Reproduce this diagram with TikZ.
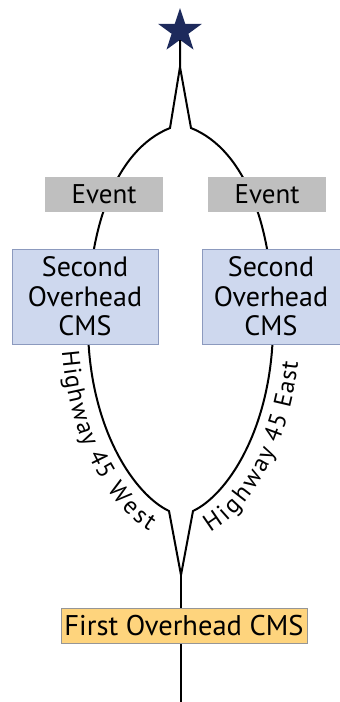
\documentclass[tikz,border=0pt]{standalone}
\usepackage{fontspec}
\setsansfont{PT Sans}
\usetikzlibrary{shapes.geometric,decorations.text}

\definecolor{starblue}{RGB}{29,42,92}
\definecolor{eventgray}{RGB}{191,191,191}
\definecolor{cmsblue}{RGB}{206,216,238}
\definecolor{cmsedge}{RGB}{140,154,190}
\definecolor{firstfill}{RGB}{254,212,125}
\definecolor{firstedge}{RGB}{150,150,150}

\tikzset{
  road/.style={line width=2pt},
  eventbox/.style={fill=eventgray, inner sep=0pt, minimum width=118pt, minimum height=35pt,
    font=\sffamily\fontsize{27}{29}\selectfont},
  cmsbox/.style={fill=cmsblue, draw=cmsedge, line width=0.6pt, inner sep=0pt, minimum height=95pt,
    align=center, font=\sffamily\fontsize{28}{29.5}\selectfont},
  firstbox/.style={fill=firstfill, draw=firstedge, line width=0.6pt, inner sep=0pt, minimum width=246pt,
    minimum height=35pt, font=\sffamily\fontsize{28.5}{29}\selectfont},
  hwylabel/.style={decorate, decoration={text along path, raise=-27pt,
    text align={left indent=#1}}}
}

\begin{document}
\begin{tikzpicture}[x=1pt,y=-1pt]
    \useasboundingbox (0,0) rectangle (340,702);

    % Define the points where the roads split and join
    \coordinate (top) at (180,67);
    \coordinate (TL) at (170,128);
    \coordinate (TR) at (191,128);
    \coordinate (WL) at (88,330);
    \coordinate (WR) at (273,330);
    \coordinate (BL) at (169,511);
    \coordinate (BR) at (193,511);
    \coordinate (bottom) at (181,575);
    \coordinate (end) at (181,702);

    % Draw the star at the top
    \node[star, star points=5, star point ratio=2.6, fill=starblue, minimum size=46pt,
      inner sep=0pt] (goal) at (180,31) {};

    % Draw the two roads
    \draw[road] (goal.south) -- (top) -- (TL)
      .. controls (115,150) and (86,230) .. (WL)
      .. controls (90,430) and (135,495) .. (BL) -- (bottom) -- (BR)
      .. controls (227,495) and (271,430) .. (WR)
      .. controls (275,230) and (246,150) .. (TR) -- (top);
    \draw[road] (bottom) -- (end);

    % Road labels
    \path[hwylabel=19pt, decoration={text={|\sffamily\fontsize{24.5}{24.5}\selectfont|Highway 45 West}}]
      (WL) .. controls (90,430) and (135,495) .. (BL);
    \path[hwylabel=2pt, decoration={text={|\sffamily\fontsize{24.5}{24.5}\selectfont|Highway 45 East}}]
      (BR) .. controls (227,495) and (271,430) .. (WR);

    % Boxes on the roads
    \node[eventbox] (eventW) at (104,194.5) {Event};
    \node[eventbox] (eventE) at (267,194.5) {Event};
    \node[cmsbox, minimum width=146pt] (cmsW) at (85,296.5) {Second\\Overhead\\CMS};
    \node[cmsbox, minimum width=138pt] (cmsE) at (271,296.5) {Second\\Overhead\\CMS};
    \node[firstbox] (first) at (184,625.5) {First Overhead CMS};

\end{tikzpicture}
\end{document}
